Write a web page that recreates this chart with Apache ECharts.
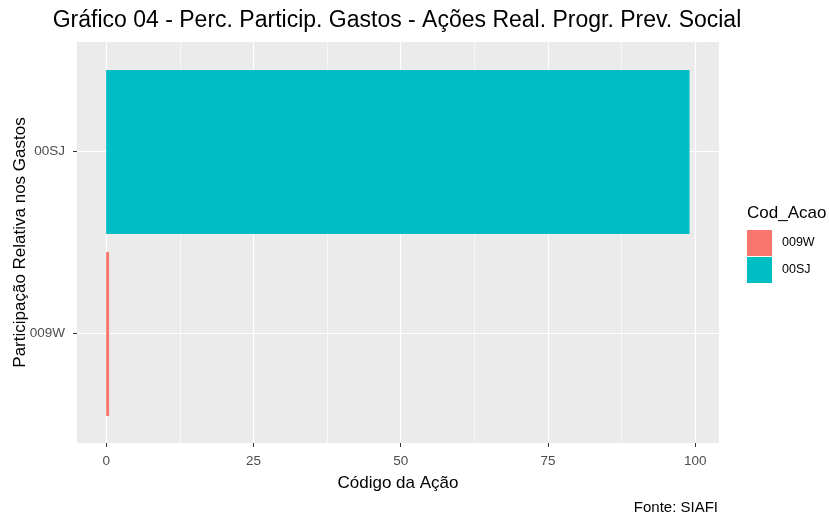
<!DOCTYPE html>
<html>
<head>
<meta charset="utf-8">
<script src="https://cdn.jsdelivr.net/npm/echarts@6/dist/echarts.min.js"></script>
<style>
  html, body { margin: 0; padding: 0; background: #fff; }
  #chart { width: 829px; height: 515px; }
</style>
</head>
<body>
<div id="chart"></div>
<script>
// dados do gráfico
var categorias = ['009W', '00SJ'];
var valores = [0.5, 99.05];
var cores = ['#F8766D', '#00BFC4'];
var ticksX = [0, 25, 50, 75, 100];
var ticksXMenor = [12.5, 37.5, 62.5, 87.5];
var posCategorias = [1, 2];

var fonte = 'Liberation Sans, Arial, sans-serif';
var chart = echarts.init(document.getElementById('chart'));

// uma série por código, para a legenda
var series = categorias.map(function (c, i) {
    return {
        name: c,
        type: 'bar',
        xAxisIndex: 2,
        yAxisIndex: 1,
        barWidth: '90%',
        barGap: '-100%',
        itemStyle: { color: cores[i] },
        data: categorias.map(function (d, j) { return j === i ? valores[i] : '-'; })
    };
});

var option = {
    animation: false,
    title: [
        {
            text: 'Gráfico 04 - Perc. Particip. Gastos - Ações Real. Progr. Prev. Social',
            left: 397, top: 9, padding: 0, textAlign: 'center',
            textStyle: { fontFamily: fonte, fontSize: 23, fontWeight: 'normal', color: '#000' }
        },
        {
            text: 'Cod_Acao',
            left: 747, top: 205, padding: 0,
            textStyle: { fontFamily: fonte, fontSize: 17, fontWeight: 'normal', color: '#000' }
        },
        {
            text: 'Fonte: SIAFI',
            right: 111, top: 500, padding: 0,
            textStyle: { fontFamily: fonte, fontSize: 15, fontWeight: 'normal', color: '#000' }
        }
    ],
    legend: {
        orient: 'vertical',
        left: 747, top: 230,
        padding: 0,
        itemWidth: 25, itemHeight: 26, itemGap: 1,
        icon: 'rect',
        data: categorias,
        textStyle: { fontFamily: fonte, fontSize: 12.5, color: '#000', padding: [0, 0, 0, 5] }
    },
    grid: [
        // painel de fundo
        { left: 77, right: 110, top: 42, bottom: 72, show: true, backgroundColor: '#EBEBEB', borderWidth: 0,
          containLabel: false, outerBoundsMode: 'none' },
        // barras
        { left: 77, right: 110, top: 61, bottom: 90, containLabel: false, outerBoundsMode: 'none' }
    ],
    xAxis: [
        {
            type: 'value', gridIndex: 0, min: -4.95, max: 104.05,
            name: 'Código da Ação', nameLocation: 'middle', nameGap: 32, nameMoveOverlap: false,
            nameTextStyle: { fontFamily: fonte, fontSize: 17, color: '#000' },
            axisLine: { show: false, onZero: false },
            axisTick: { show: true, length: 4, customValues: ticksX, lineStyle: { color: '#333', width: 1 } },
            axisLabel: { customValues: ticksX, fontFamily: fonte, fontSize: 13.5, color: '#4D4D4D', margin: 11 },
            splitLine: { show: true, lineStyle: { color: '#fff', width: 1.2 } }
        },
        {
            type: 'value', gridIndex: 0, min: -4.95, max: 104.05,
            axisLine: { show: false, onZero: false },
            axisTick: { show: false, customValues: ticksXMenor },
            axisLabel: { show: false, customValues: ticksXMenor },
            splitLine: { show: true, lineStyle: { color: '#fff', width: 0.6 } }
        },
        {
            type: 'value', gridIndex: 1, min: -4.95, max: 104.05, show: false
        }
    ],
    yAxis: [
        {
            type: 'value', gridIndex: 0, min: 0.4, max: 2.6,
            name: 'Participação Relativa nos Gastos', nameLocation: 'middle', nameGap: 48, nameMoveOverlap: false,
            nameTextStyle: { fontFamily: fonte, fontSize: 17, color: '#000' },
            axisLine: { show: false, onZero: false },
            axisTick: { show: true, length: 4, customValues: posCategorias, lineStyle: { color: '#333', width: 1 } },
            axisLabel: {
                customValues: posCategorias, fontFamily: fonte, fontSize: 13.5, color: '#4D4D4D', margin: 12,
                formatter: function (v) { return categorias[Math.round(v) - 1]; }
            },
            splitLine: { show: true, lineStyle: { color: '#fff', width: 1.2 } }
        },
        {
            type: 'category', gridIndex: 1, data: categorias, show: false
        }
    ],
    series: series
};

chart.setOption(option);
</script>
</body>
</html>
